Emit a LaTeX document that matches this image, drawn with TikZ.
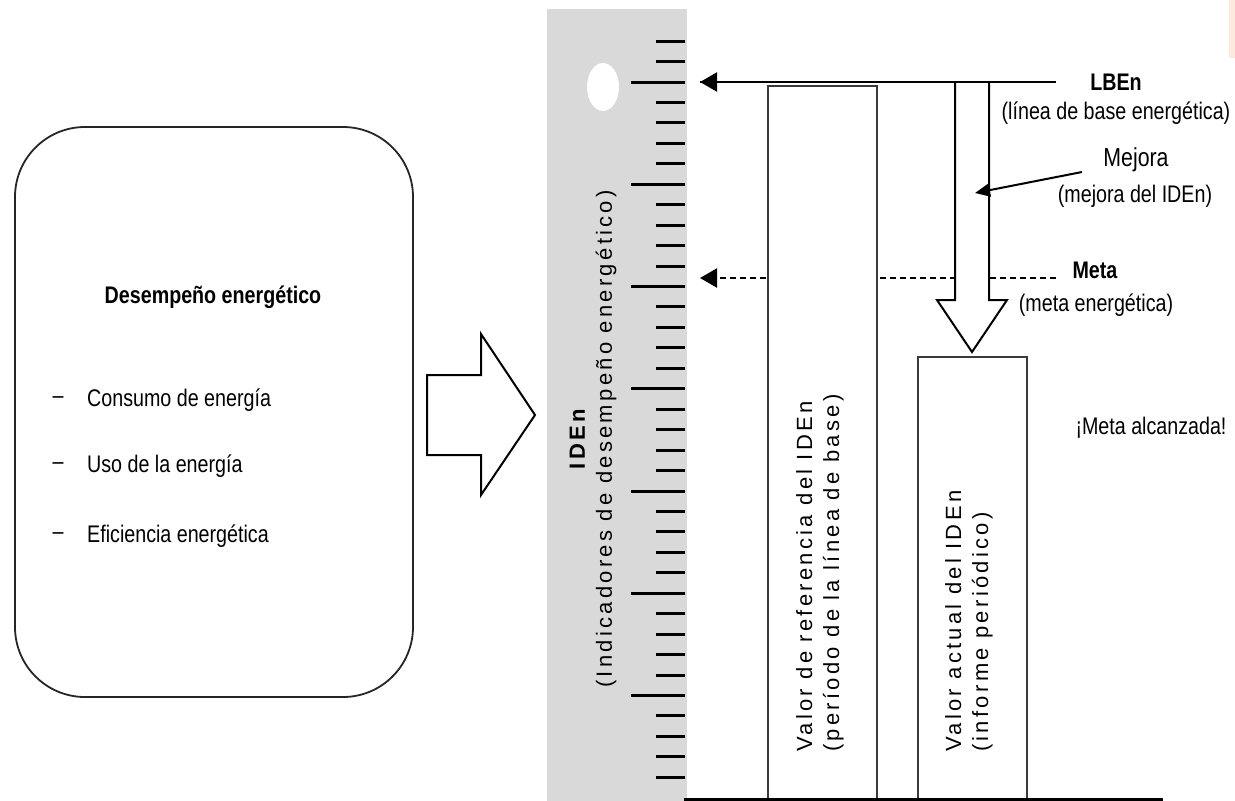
\documentclass[tikz,border=0pt]{standalone}
\usepackage{fontspec}
\setmainfont{Liberation Sans}
\newfontfamily\narrowfont[FakeStretch=0.82]{Liberation Sans}
\newfontfamily\spacedfont[LetterSpace=15]{Liberation Sans}
\usetikzlibrary{arrows.meta}
\definecolor{rulergray}{HTML}{D9D9D9}
\definecolor{barline}{HTML}{3A3A3A}
\definecolor{blush}{HTML}{FCEADF}

\begin{document}
\begin{tikzpicture}[x=1pt,y=-1pt,
  lbl/.style={inner sep=0pt, font=\narrowfont\fontsize{24}{28}\selectfont},
  lblbold/.style={inner sep=0pt, font=\narrowfont\bfseries\fontsize{24}{28}\selectfont},
  vtext/.style={inner sep=0pt, rotate=90, font=\spacedfont\fontsize{22}{27}\selectfont},
  bar/.style={draw=barline, line width=2pt, fill=white},
  tick/.style={line width=3pt},
  levelarrow/.style={line width=2.2pt, -{Triangle[length=17pt,width=19pt]}},
  hollow/.style={draw=black, line width=2pt, fill=white, line join=miter},
]
\useasboundingbox (0,0) rectangle (1235,801);
\fill[white] (0,0) rectangle (1235,801);
\fill[blush] (1229,0) rectangle (1235,58);

% energy performance box
\node[draw=black!85, line width=1.8pt, rounded corners=70pt,
      minimum width=398pt, minimum height=570pt] (perf) at (214,412) {};
\node[lblbold] (perftitle) at (213,297) {Desempeño energético};
\node[lbl] (d1) at (58,400) {–};
\node[lbl, anchor=west] (i1) at (87,400) {Consumo de energía};
\node[lbl] (d2) at (58,466) {–};
\node[lbl, anchor=west] (i2) at (87,466) {Uso de la energía};
\node[lbl] (d3) at (58,536) {–};
\node[lbl, anchor=west] (i3) at (87,536) {Eficiencia energética};

% block arrow towards the scale
\draw[hollow] (427,375) -- (481,375) -- (481,334) -- (535,415)
  -- (481,495) -- (481,455) -- (427,455) -- cycle;

% ruler
\fill[rulergray] (547,9) rectangle (687,801);
\fill[white] (603,87) ellipse [x radius=16pt, y radius=24pt];
\foreach \k in {-2,...,34}{
  \pgfmathsetmacro\yy{82+20.45*\k}
  \pgfmathsetmacro\xs{mod(\k,5)==0 ? 631 : 656}
  \draw[tick] (\xs,\yy) -- (685,\yy);
}
\node[vtext, align=center] (iden) at (593,439)
  {{\bfseries IDEn}\\(Indicadores de desempeño energético)};

% reference levels
\coordinate (lbeR) at (1056,82);
\coordinate (lbeL) at (700,82);
\coordinate (metaR) at (1056,278);
\coordinate (metaL) at (700,278);
\draw[levelarrow] (lbeR) -- (lbeL);
\draw[levelarrow, dash pattern=on 6pt off 4pt] (metaR) -- (metaL);

% bars
\draw[bar] (768,86) rectangle (877,801);
\draw[bar] (918,357) rectangle (1027,801);
\node[vtext, anchor=west, align=left] (refval) at (820,752)
  {Valor de referencia del IDEn\\(período de la línea de base)};
\node[vtext, anchor=west, align=left] (curval) at (969,752)
  {Valor actual del IDEn\\(informe periódico)};

% improvement arrow
\draw[hollow] (955,82) -- (955,300) -- (937,300) -- (972,352)
  -- (1007,300) -- (989,300) -- (989,82);
\draw[line width=2.2pt] (lbeR) -- (lbeL);

% base line
\coordinate (baseL) at (684,799);
\coordinate (baseR) at (1163,799);
\draw[line width=3pt] (baseL) -- (baseR);

% labels
\node[lblbold] (lben) at (1116,82) {LBEn};
\node[lbl] (lbenx) at (1116,113) {(línea de base energética)};
\node[lbl, font=\narrowfont\fontsize{26}{30}\selectfont] (mejora) at (1136,160) {Mejora};
\node[lbl] (mejorax) at (1135,196) {(mejora del IDEn)};
\node[lblbold] (meta) at (1095,270) {Meta};
\node[lbl] (metax) at (1096,305) {(meta energética)};
\node[lbl] (ok) at (1151,428) {¡Meta alcanzada!};

\coordinate (mejoraTail) at (1082,172);
\coordinate (mejoraTip) at (975,193);
\draw[line width=2pt, -{Triangle[length=15pt,width=13pt]}] (mejoraTail) -- (mejoraTip);
\end{tikzpicture}
\end{document}
